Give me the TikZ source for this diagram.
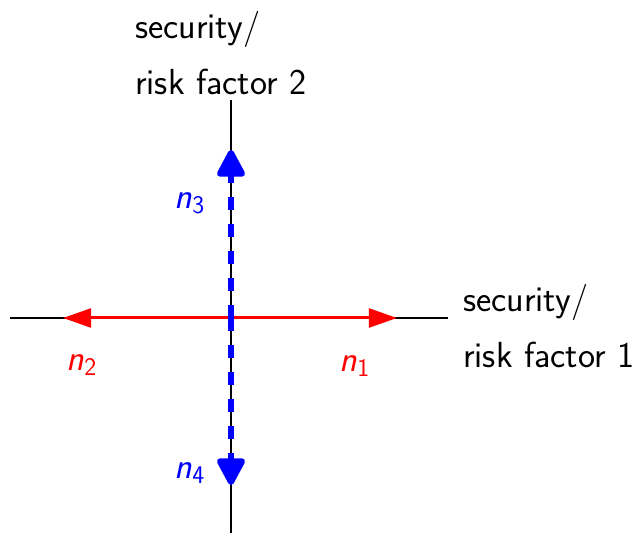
\documentclass[tikz,border=0pt]{standalone}
\usepackage{amsmath}
\usepackage{fontspec}
\usepackage{tikz}
\usetikzlibrary{arrows.meta}
\definecolor{redN}{HTML}{FF0000}
\definecolor{blueN}{HTML}{0000FF}

\newcommand{\nlab}[1]{$\textsf{\itshape n}_{\textsf{#1}}$}

\begin{document}
\begin{tikzpicture}[
  x=0.025cm, y=0.025cm,
  axis/.style={draw=black, line width=1.5*0.025cm},
  redarr/.style={draw=redN, line width=3*0.025cm, -{Triangle[length=0.7cm, width=0.47cm]}},
  bluearr/.style={draw=blueN, line width=6*0.025cm, dash pattern=on 13*0.025cm off 14*0.025cm,
    -{Triangle[round, length=0.76cm, width=0.76cm]}},
  lab/.style={font=\sffamily\fontsize{25.8}{39.7}\selectfont, align=left, inner sep=0pt},
  nlbl/.style={font=\sffamily\fontsize{25.8}{30}\selectfont, inner sep=0pt}
]
\useasboundingbox (0,0) rectangle (634,533);

% axes
\coordinate (o) at (231,215);
\coordinate (xl) at (10,215);
\coordinate (xr) at (448,215);
\coordinate (yt) at (231,433);
\coordinate (yb) at (231,0);
\draw[axis] (xl) -- (xr);
\draw[axis] (yb) -- (yt);

% axis labels
\node[lab, anchor=west] (f1) at (463,207) {security/\\risk factor 1};
\node[lab, anchor=west] (f2) at (135,480) {security/\\risk factor 2};

% arrow tips
\coordinate (t1) at (397,215);
\coordinate (t2) at (63,215);
\coordinate (t3) at (231,383);
\coordinate (t4) at (231,48);

% red arrows
\draw[redarr] (o) -- (t1);
\draw[redarr] (o) -- (t2);
% blue arrows
\draw[bluearr] (o) -- (t3);
\draw[bluearr] (o) -- (t4);

% arrow labels
\node[nlbl, text=redN] (n1) at (355,167) {\nlab{1}};
\node[nlbl, text=redN] (n2) at (82,168) {\nlab{2}};
\node[nlbl, text=blueN] (n3) at (190,330) {\nlab{3}};
\node[nlbl, text=blueN] (n4) at (190,60) {\nlab{4}};
\end{tikzpicture}
\end{document}
